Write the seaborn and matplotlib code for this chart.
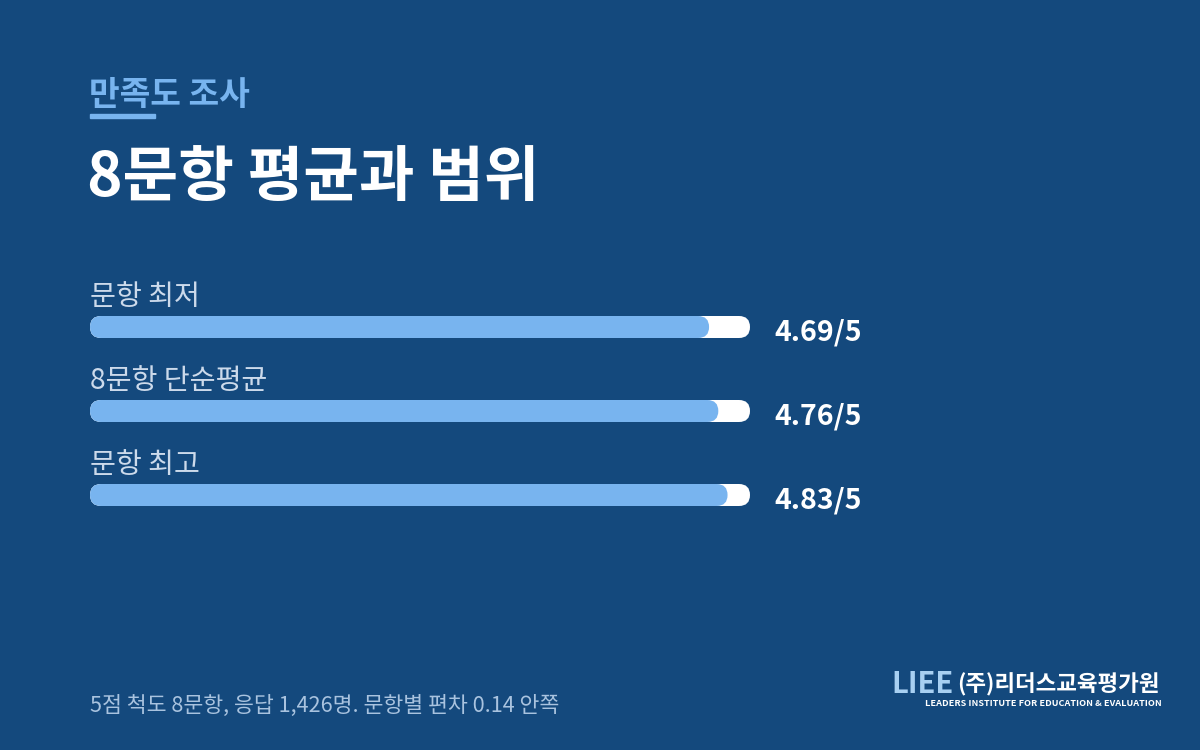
import matplotlib
matplotlib.use("Agg")
import matplotlib.pyplot as plt
from matplotlib.patches import FancyBboxPatch, Rectangle
import seaborn as sns
import pandas as pd

# data
labels = ["문항 최저", "8문항 단순평균", "문항 최고"]
scores = [4.69, 4.76, 4.83]
max_score = 5

bg = "#14497d"
fill_col = "#78b4ef"
label_col = "#ccdaeb"

sns.set_theme(style="white")
plt.rcParams['font.family'] = ['Noto Sans CJK KR', 'DejaVu Sans']

fig = plt.figure(figsize=(12, 7.5), dpi=100)
fig.patch.set_facecolor(bg)

W, H = 1200, 750
def fx(px):
    return px / W
def fy(py):
    return 1 - py / H

# header
fig.text(fx(89), fy(95), "만족도 조사", color=fill_col, fontsize=24,
         va="center", ha="left", fontweight="bold")
fig.patches.append(Rectangle((fx(90), fy(118)), fx(65), 4 / H,
                             transform=fig.transFigure, color=fill_col))
fig.text(fx(87), fy(178), "8문항 평균과 범위", color="white", fontsize=43.5,
         va="center", ha="left", fontweight="bold")

# bars
ax = fig.add_axes([fx(90), fy(537), fx(660), 252 / H])
ax.set_facecolor(bg)
df = pd.DataFrame({"label": labels, "score": scores, "full": [max_score] * len(scores)})
bar_h = 22 / 84
sns.barplot(data=df, x="full", y="label", orient="h", color="white",
            width=bar_h, saturation=1, ax=ax)
sns.barplot(data=df, x="score", y="label", orient="h", color=fill_col,
            width=bar_h, saturation=1, ax=ax)
ax.set_xlim(0, max_score)
ax.set_ylim(2.5, -0.5)
ax.axis("off")

# round the bar ends
px_per_x = 660 / max_score
px_per_y = 84
r = 11 / px_per_x
for p in list(ax.patches):
    x0, y0 = p.get_x(), p.get_y()
    w, h = p.get_width(), p.get_height()
    rb = FancyBboxPatch((x0, y0), w, h,
                        boxstyle=f"round,pad=0,rounding_size={r}",
                        mutation_aspect=px_per_x / px_per_y,
                        facecolor=p.get_facecolor(), edgecolor="none")
    p.remove()
    ax.add_patch(rb)

for i, (lab, v) in enumerate(zip(labels, scores)):
    ax.text(0, i - bar_h / 2 - 0.05, lab, color=label_col, fontsize=20.3,
            ha="left", va="bottom", clip_on=False)
    ax.text(max_score + 24 / px_per_x, i + 0.06, f"{v:.2f}/{max_score}",
            color="white", fontsize=20.5, fontweight="bold",
            ha="left", va="center", clip_on=False)

# footer
fig.text(fx(90), fy(706), "5점 척도 8문항, 응답 1,426명. 문항별 편차 0.14 안쪽",
         color="#a9c3df", fontsize=15.6, ha="left", va="center")

# logo
fig.text(fx(891), fy(684), "LIEE", color="#a8d0f2", fontsize=21,
         fontweight="heavy", ha="left", va="center")
fig.text(fx(957), fy(685), "(주)리더스교육평가원", color="white", fontsize=16.2,
         fontweight="bold", ha="left", va="center")
fig.text(fx(925), fy(704), "LEADERS INSTITUTE FOR EDUCATION & EVALUATION",
         color="white", fontsize=6.6, fontweight="bold", ha="left", va="center")

fig.savefig("out.png", dpi=100, facecolor=bg)
